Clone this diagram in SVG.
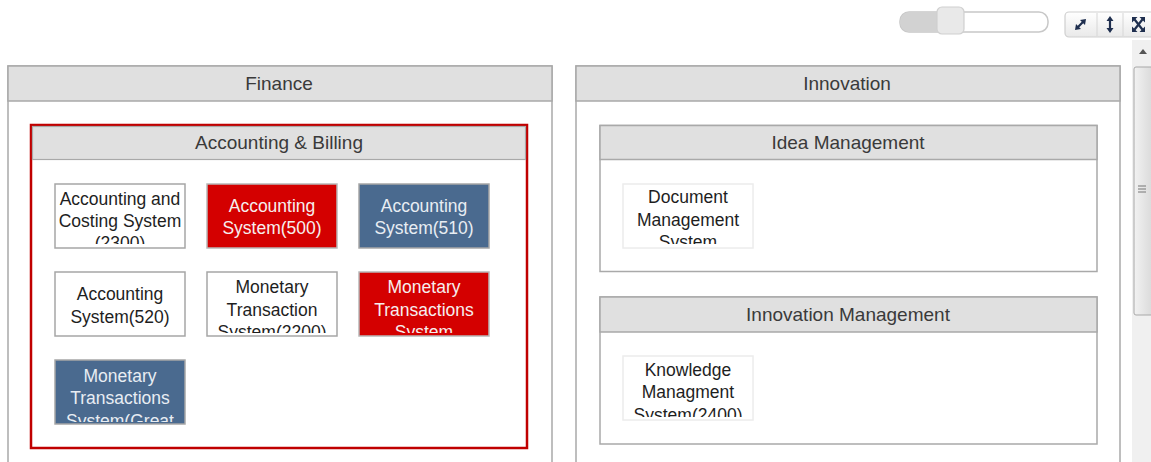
<svg xmlns="http://www.w3.org/2000/svg" width="1151" height="462" viewBox="0 0 1151 462">
<defs>
<style>
.panel{fill:#ffffff;stroke:#a9a9a9;stroke-width:1.5}
.hdr{fill:#e0e0e0;stroke:#a9a9a9;stroke-width:1.5}
.htxt{font-family:"Liberation Sans",Arial,sans-serif;font-size:19px;fill:#3a3a3a;text-anchor:middle}
.ntxt{font-family:"Liberation Sans",Arial,sans-serif;font-size:17.5px;text-anchor:middle}
.white{fill:#ffffff;stroke:#a6a6a6;stroke-width:1.5}
.red{fill:#d40000;stroke:#b8b8b8;stroke-width:1.5}
.blue{fill:#4a6a8f;stroke:#a6a6a6;stroke-width:1.5}
.faint{fill:#ffffff;stroke:#ececec;stroke-width:1.5}
.dark{fill:#1e1e1e}
.light{fill:#f6eeee}
.lightb{fill:#e8edf3}
.icon{fill:none;stroke:#1f2f4f;stroke-width:2.2;stroke-linecap:round}
.icoh{fill:#1f2f4f}
</style>
<linearGradient id="btn" x1="0" y1="0" x2="0" y2="1"><stop offset="0" stop-color="#ffffff"/><stop offset="1" stop-color="#e9e9e9"/></linearGradient>
<linearGradient id="thumb" x1="0" y1="0" x2="1" y2="0"><stop offset="0" stop-color="#f2f2f2"/><stop offset="1" stop-color="#d8d8d8"/></linearGradient>
<clipPath id="c1"><rect x="59" y="186" width="122" height="58"/></clipPath>
<clipPath id="c2"><rect x="211" y="186" width="122" height="58"/></clipPath>
<clipPath id="c3"><rect x="363" y="186" width="122" height="58"/></clipPath>
<clipPath id="c4"><rect x="59" y="274" width="122" height="59"/></clipPath>
<clipPath id="c5"><rect x="211" y="274" width="122" height="59"/></clipPath>
<clipPath id="c6"><rect x="363" y="274" width="122" height="59"/></clipPath>
<clipPath id="c7"><rect x="59" y="362" width="122" height="60"/></clipPath>
<clipPath id="c8"><rect x="627" y="186" width="122" height="58"/></clipPath>
<clipPath id="c9"><rect x="627" y="358" width="122" height="59"/></clipPath>
</defs>
<rect width="1151" height="462" fill="#ffffff"/>

<g id="toolbar">
<rect x="900" y="12" width="148" height="20" rx="9" fill="#ffffff" stroke="#c8c8c8" stroke-width="1.5"/>
<path d="M909,12 H945 V32 H909 A9,10 0 0 1 909,12 Z" fill="#d2d2d2"/>
<rect x="937" y="7" width="27" height="27" rx="5" fill="#e9e9e9" stroke="#d0d0d0" stroke-width="1.2"/>
<rect x="1065" y="12" width="92" height="25" rx="4" fill="url(#btn)" stroke="#cfcfcf" stroke-width="1.2"/>
<line x1="1097" y1="13" x2="1097" y2="36" stroke="#d6d6d6"/>
<line x1="1123" y1="13" x2="1123" y2="36" stroke="#d6d6d6"/>
<path class="icon" d="M1078,27 L1083,22"/>
<path class="icoh" d="M1086,19 L1085,25 L1080,20 Z M1075,30 L1076,24 L1081,29 Z"/>
<path class="icon" d="M1110,19 V30"/>
<path class="icoh" d="M1110,16 L1113.5,21 H1106.5 Z M1110,33 L1113.5,28 H1106.5 Z"/>
<path class="icon" d="M1135,20 L1142,29 M1142,20 L1135,29"/>
<path class="icoh" d="M1132,17 H1137.5 L1132,22.5 Z M1145,17 V22.5 L1139.5,17 Z M1132,32 V26.5 L1137.5,32 Z M1145,32 H1139.5 L1145,26.5 Z"/>
</g>

<g id="scrollbar">
<rect x="1132" y="40" width="19" height="422" fill="#f0f0f0"/>
<path d="M1139,54 L1143,49 L1147,54 Z" fill="#555"/>
<rect x="1134" y="67" width="20" height="248" rx="2" fill="url(#thumb)" stroke="#a8a8a8" stroke-width="1"/>
<path d="M1138,186 H1146 M1138,189 H1146 M1138,192 H1146" stroke="#777" stroke-width="1"/>
</g>

<g id="finance">
<rect class="panel" x="8" y="66" width="544" height="410"/>
<rect class="hdr" x="8" y="66" width="544" height="35"/>
<text class="htxt" x="279" y="90">Finance</text>
</g>

<g id="innovation">
<rect class="panel" x="576" y="66" width="544" height="410"/>
<rect class="hdr" x="576" y="66" width="544" height="35"/>
<text class="htxt" x="847" y="90">Innovation</text>
</g>

<g id="accounting-billing">
<rect x="31" y="125" width="496" height="323" fill="#ffffff" stroke="#c00000" stroke-width="2.5"/>
<rect x="32.5" y="126.5" width="493" height="33" fill="#e0e0e0" stroke="#a9a9a9" stroke-width="1.2"/>
<text class="htxt" x="279" y="149">Accounting &amp; Billing</text>
</g>

<g id="idea-management">
<rect class="panel" x="600" y="125.5" width="497" height="146"/>
<rect class="hdr" x="600" y="125.5" width="497" height="34"/>
<text class="htxt" x="848" y="149">Idea Management</text>
</g>

<g id="innovation-management">
<rect class="panel" x="600" y="297" width="497" height="147"/>
<rect class="hdr" x="600" y="297" width="497" height="35"/>
<text class="htxt" x="848" y="320.5">Innovation Management</text>
</g>

<g id="n2300">
<rect class="white" x="55" y="184" width="130" height="64"/>
<g clip-path="url(#c1)" class="ntxt dark"><text x="120" y="204.5">Accounting and</text><text x="120" y="226.5">Costing System</text><text x="120" y="248.5">(2300)</text></g>
</g>
<g id="n500">
<rect class="red" x="207" y="184" width="130" height="64"/>
<g clip-path="url(#c2)" class="ntxt light"><text x="272" y="211.5">Accounting</text><text x="272" y="234">System(500)</text></g>
</g>
<g id="n510">
<rect class="blue" x="359" y="184" width="130" height="64"/>
<g clip-path="url(#c3)" class="ntxt lightb"><text x="424" y="211.5">Accounting</text><text x="424" y="234">System(510)</text></g>
</g>
<g id="n520">
<rect class="white" x="55" y="272" width="130" height="64"/>
<g clip-path="url(#c4)" class="ntxt dark"><text x="120" y="300">Accounting</text><text x="120" y="322.5">System(520)</text></g>
</g>
<g id="n2200">
<rect class="white" x="207" y="272" width="130" height="64"/>
<g clip-path="url(#c5)" class="ntxt dark"><text x="272" y="293">Monetary</text><text x="272" y="315.5">Transaction</text><text x="272" y="338">System(2200)</text></g>
</g>
<g id="nmts">
<rect class="red" x="359" y="272" width="130" height="64"/>
<g clip-path="url(#c6)" class="ntxt light"><text x="424" y="293">Monetary</text><text x="424" y="315.5">Transactions</text><text x="424" y="338">System</text></g>
</g>
<g id="nmtsg">
<rect class="blue" x="55" y="360" width="130" height="64"/>
<g clip-path="url(#c7)" class="ntxt lightb"><text x="120" y="381.5">Monetary</text><text x="120" y="404">Transactions</text><text x="120" y="426.5">System(Great</text></g>
</g>
<g id="ndms">
<rect class="faint" x="623" y="184" width="130" height="64"/>
<g clip-path="url(#c8)" class="ntxt dark"><text x="688" y="203">Document</text><text x="688" y="225.5">Management</text><text x="688" y="248">System</text></g>
</g>
<g id="n2400">
<rect class="faint" x="623" y="356" width="130" height="64"/>
<g clip-path="url(#c9)" class="ntxt dark"><text x="688" y="375.5">Knowledge</text><text x="688" y="398">Managment</text><text x="688" y="420.5">System(2400)</text></g>
</g>
</svg>
